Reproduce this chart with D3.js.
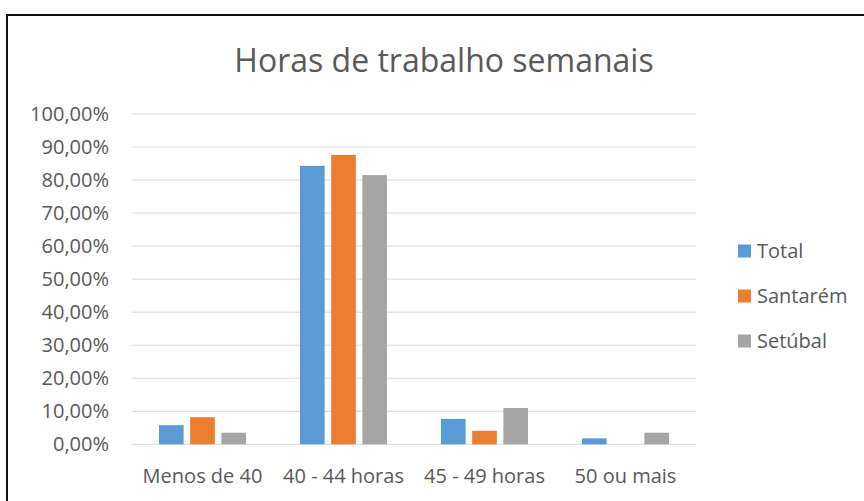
<!DOCTYPE html>
<html>
<head>
<meta charset="utf-8">
<script src="https://cdn.jsdelivr.net/npm/d3@7"></script>
<style>
  body { margin: 0; background: #fff; }
  svg { display: block; font-family: "Open Sans", sans-serif; }
</style>
</head>
<body>
<svg id="chart" width="864" height="501"></svg>
<script>
// chart data
var categories = ["Menos de 40", "40 - 44 horas", "45 - 49 horas", "50 ou mais"];
var seriesNames = ["Total", "Santarém", "Setúbal"];
var total    = [5.8, 84.3, 7.7, 1.8];
var santarem = [8.2, 87.6, 4.1, 0];
var setubal  = [3.5, 81.5, 11.0, 3.5];
var yTicks = [0, 10, 20, 30, 40, 50, 60, 70, 80, 90, 100];
var colors = ["#5b9bd5", "#ed7d31", "#a5a5a5"];

var series = [total, santarem, setubal];

var svg = d3.select("#chart");

// outer frame (right/bottom edges fall outside the picture)
svg.append("rect")
  .attr("x", 7).attr("y", 15)
  .attr("width", 900).attr("height", 600)
  .attr("fill", "none")
  .attr("stroke", "#111")
  .attr("stroke-width", 2);

svg.append("text")
  .attr("x", 444).attr("y", 72)
  .attr("text-anchor", "middle")
  .attr("fill", "#595959")
  .style("font-size", "32px")
  .text("Horas de trabalho semanais");

var x0 = d3.scaleBand().domain(categories).range([132, 696]);
var x1 = d3.scaleBand().domain(seriesNames).range([27, 114]).paddingInner(0.21);
var y = d3.scaleLinear().domain([0, 100]).range([444.3, 114]);

// gridlines
svg.append("g").selectAll("line")
  .data(yTicks).enter()
  .append("line")
  .attr("x1", 132).attr("x2", 696)
  .attr("y1", function(d){ return y(d); })
  .attr("y2", function(d){ return y(d); })
  .attr("stroke", "#d9d9d9")
  .attr("stroke-width", 1);

// y axis labels
var yAxis = d3.axisLeft(y).tickValues(yTicks)
  .tickSize(0).tickPadding(0)
  .tickFormat(function(d){ return d3.format(".2f")(d).replace(".", ",") + "%"; });
var ya = svg.append("g").attr("transform", "translate(109,0)").call(yAxis);
ya.select(".domain").remove();
ya.selectAll("text").attr("fill", "#595959").style("font-size", "20px").style("font-family", "Open Sans, sans-serif");

// bars
var groups = svg.append("g").selectAll("g")
  .data(categories).enter()
  .append("g")
  .attr("transform", function(d){ return "translate(" + x0(d) + ",0)"; });

groups.selectAll("rect")
  .data(function(d, i){ return series.map(function(s, j){ return {name: seriesNames[j], value: s[i], k: j}; }); })
  .enter().append("rect")
  .attr("x", function(d){ return x1(d.name); })
  .attr("width", x1.bandwidth())
  .attr("y", function(d){ return y(d.value); })
  .attr("height", function(d){ return y(0) - y(d.value); })
  .attr("fill", function(d){ return colors[d.k]; });

// x axis labels
var xAxis = d3.axisBottom(x0).tickSize(0).tickPadding(0);
var xa = svg.append("g").attr("transform", "translate(0,483)").call(xAxis);
xa.select(".domain").remove();
xa.selectAll("text").attr("y", 0).attr("dy", 0)
  .attr("fill", "#595959").style("font-size", "20px").style("font-family", "Open Sans, sans-serif");

// legend
var legend = svg.append("g").selectAll("g")
  .data(seriesNames).enter()
  .append("g")
  .attr("transform", function(d, i){ return "translate(738," + (251 + i * 45) + ")"; });
legend.append("rect")
  .attr("x", 0).attr("y", -6.5)
  .attr("width", 13).attr("height", 13)
  .attr("fill", function(d, i){ return colors[i]; });
legend.append("text")
  .attr("x", 19).attr("y", 0).attr("dy", "0.35em")
  .attr("fill", "#595959")
  .style("font-size", "20px")
  .text(function(d){ return d; });
</script>
</body>
</html>
